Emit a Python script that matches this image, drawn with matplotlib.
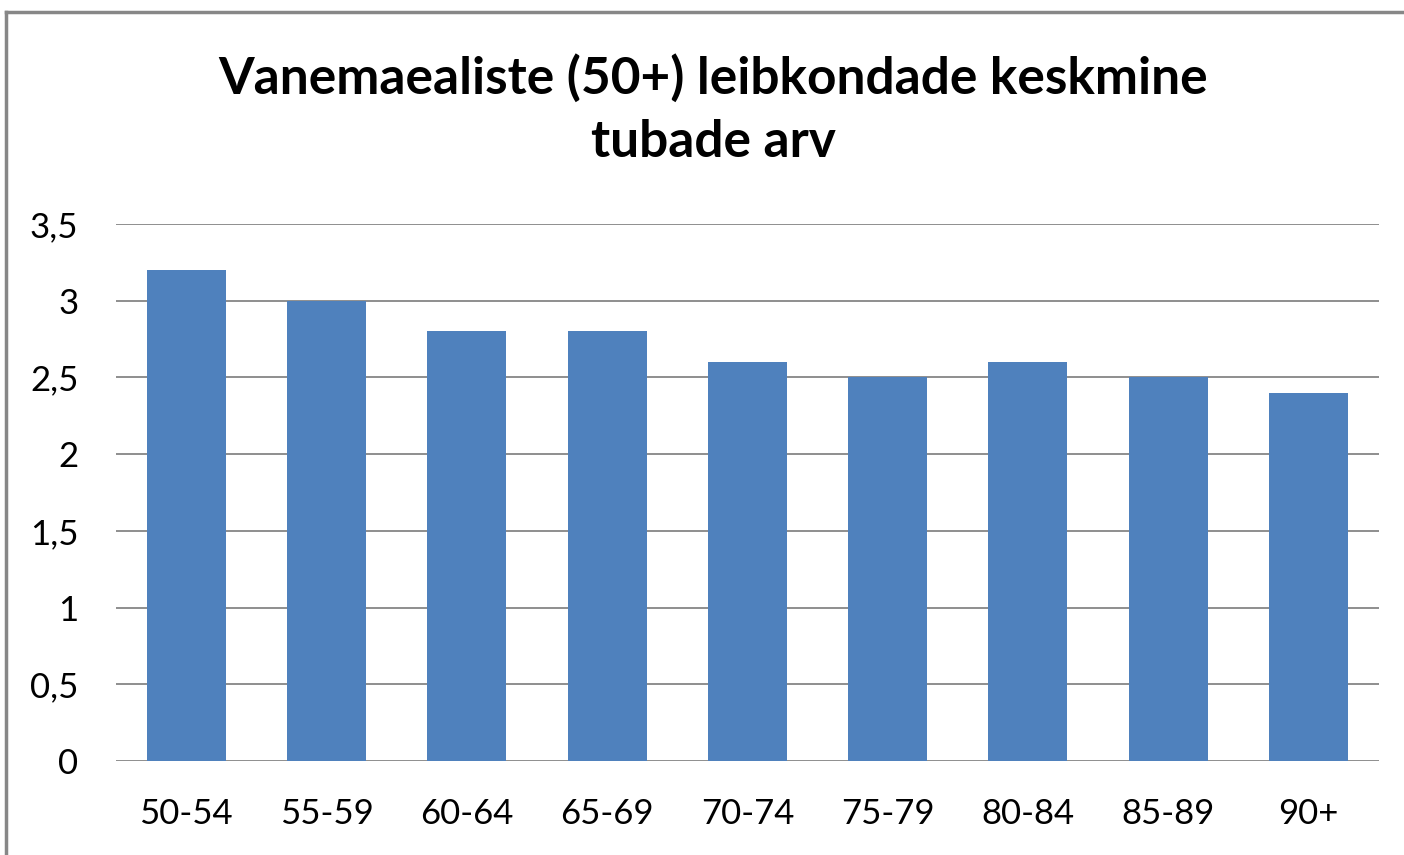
import matplotlib.pyplot as plt
from matplotlib.ticker import FuncFormatter

categories = ["50-54", "55-59", "60-64", "65-69", "70-74", "75-79", "80-84", "85-89", "90+"]
values = [3.2, 3.0, 2.8, 2.8, 2.6, 2.5, 2.6, 2.5, 2.4]
title = "Vanemaealiste (50+) leibkondade keskmine\ntubade arv"

plt.rcParams['font.family'] = ['Lato', 'DejaVu Sans']

fig = plt.figure(figsize=(14.04, 8.55), dpi=100)
ax = fig.add_axes([0.0826, 0.110, 0.8994, 0.628])

x = range(len(categories))
ax.bar(x, values, width=0.563, color='#4F81BD', zorder=3)

ax.set_xlim(-0.5, len(categories) - 0.5)
ax.set_ylim(0, 3.5)
ax.set_yticks([0, 0.5, 1, 1.5, 2, 2.5, 3, 3.5])
ax.yaxis.set_major_formatter(FuncFormatter(lambda v, p: f"{v:g}".replace('.', ',')))
ax.set_xticks(list(x))
ax.set_xticklabels(categories)
ax.grid(axis='y', color='#868686', linewidth=1.3, zorder=0)
ax.tick_params(axis='both', length=0, labelsize=25, colors='black')
ax.tick_params(axis='x', pad=27)
ax.tick_params(axis='y', pad=27)
for s in ax.spines.values():
    s.set_visible(False)

fig.text(0.508, 0.871, title, ha='center', va='center', fontsize=37,
         fontweight='bold', linespacing=1.42)

# outer frame (only left and top visible in the crop)
fig.add_artist(plt.Line2D([6 / 1404, 6 / 1404], [0, 1 - 12 / 855], color='#878787',
                          linewidth=2.5, transform=fig.transFigure))
fig.add_artist(plt.Line2D([6 / 1404, 1], [1 - 12 / 855, 1 - 12 / 855], color='#878787',
                          linewidth=2.5, transform=fig.transFigure))

fig.savefig('out.png', dpi=100)
